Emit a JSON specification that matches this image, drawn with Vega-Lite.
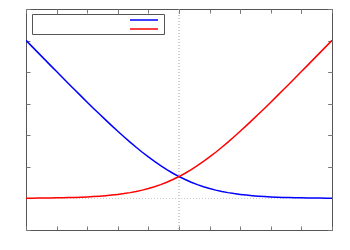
{
  "$schema": "https://vega.github.io/schema/vega-lite/v6.json",
  "width": 306,
  "height": 221,
  "autosize": {"type": "none"},
  "padding": {"left": 26, "top": 9, "right": 18, "bottom": 20},
  "background": "white",
  "config": {
    "view": {"stroke": "#555555", "strokeWidth": 1},
    "axis": {"labels": false, "domain": false, "grid": false, "ticks": true, "tickSize": -4, "tickColor": "#777777", "tickWidth": 1, "title": null}
  },
  "data": {"values": [
    {"x": -2.5, "a": 5.0067, "b": 0.0067},
    {"x": -2.4, "a": 4.8082, "b": 0.0082},
    {"x": -2.3, "a": 4.6100, "b": 0.0100},
    {"x": -2.2, "a": 4.4122, "b": 0.0122},
    {"x": -2.1, "a": 4.2149, "b": 0.0149},
    {"x": -2.0, "a": 4.0182, "b": 0.0182},
    {"x": -1.9, "a": 3.8221, "b": 0.0221},
    {"x": -1.8, "a": 3.6270, "b": 0.0270},
    {"x": -1.7, "a": 3.4328, "b": 0.0328},
    {"x": -1.6, "a": 3.2400, "b": 0.0400},
    {"x": -1.5, "a": 3.0486, "b": 0.0486},
    {"x": -1.4, "a": 2.8590, "b": 0.0590},
    {"x": -1.3, "a": 2.6716, "b": 0.0716},
    {"x": -1.2, "a": 2.4868, "b": 0.0868},
    {"x": -1.1, "a": 2.3051, "b": 0.1051},
    {"x": -1.0, "a": 2.1269, "b": 0.1269},
    {"x": -0.9, "a": 1.9530, "b": 0.1530},
    {"x": -0.8, "a": 1.7839, "b": 0.1839},
    {"x": -0.7, "a": 1.6204, "b": 0.2204},
    {"x": -0.6, "a": 1.4633, "b": 0.2633},
    {"x": -0.5, "a": 1.3133, "b": 0.3133},
    {"x": -0.4, "a": 1.1711, "b": 0.3711},
    {"x": -0.3, "a": 1.0375, "b": 0.4375},
    {"x": -0.2, "a": 0.9130, "b": 0.5130},
    {"x": -0.1, "a": 0.7981, "b": 0.5981},
    {"x": 0.0, "a": 0.6931, "b": 0.6931},
    {"x": 0.1, "a": 0.5981, "b": 0.7981},
    {"x": 0.2, "a": 0.5130, "b": 0.9130},
    {"x": 0.3, "a": 0.4375, "b": 1.0375},
    {"x": 0.4, "a": 0.3711, "b": 1.1711},
    {"x": 0.5, "a": 0.3133, "b": 1.3133},
    {"x": 0.6, "a": 0.2633, "b": 1.4633},
    {"x": 0.7, "a": 0.2204, "b": 1.6204},
    {"x": 0.8, "a": 0.1839, "b": 1.7839},
    {"x": 0.9, "a": 0.1530, "b": 1.9530},
    {"x": 1.0, "a": 0.1269, "b": 2.1269},
    {"x": 1.1, "a": 0.1051, "b": 2.3051},
    {"x": 1.2, "a": 0.0868, "b": 2.4868},
    {"x": 1.3, "a": 0.0716, "b": 2.6716},
    {"x": 1.4, "a": 0.0590, "b": 2.8590},
    {"x": 1.5, "a": 0.0486, "b": 3.0486},
    {"x": 1.6, "a": 0.0400, "b": 3.2400},
    {"x": 1.7, "a": 0.0328, "b": 3.4328},
    {"x": 1.8, "a": 0.0270, "b": 3.6270},
    {"x": 1.9, "a": 0.0221, "b": 3.8221},
    {"x": 2.0, "a": 0.0182, "b": 4.0182},
    {"x": 2.1, "a": 0.0149, "b": 4.2149},
    {"x": 2.2, "a": 0.0122, "b": 4.4122},
    {"x": 2.3, "a": 0.0100, "b": 4.6100},
    {"x": 2.4, "a": 0.0082, "b": 4.8082},
    {"x": 2.5, "a": 0.0067, "b": 5.0067}
  ]},
  "layer": [
    {
      "data": {"values": [{"z": 0}]},
      "mark": {"type": "rule", "stroke": "#a0a0a0", "strokeWidth": 1, "strokeDash": [1, 2]},
      "encoding": {"x": {"field": "z", "type": "quantitative", "scale": {"domain": [-2.5, 2.5], "nice": false, "zero": false}}}
    },
    {
      "data": {"values": [{"z": 0}]},
      "mark": {"type": "rule", "stroke": "#c8c8c8", "strokeWidth": 1, "strokeDash": [1, 2]},
      "encoding": {"y": {"field": "z", "type": "quantitative", "scale": {"domain": [-1, 6], "nice": false, "zero": false}}}
    },
    {
      "mark": {"type": "line", "strokeWidth": 1.5, "clip": true},
      "encoding": {
        "x": {"field": "x", "type": "quantitative", "scale": {"domain": [-2.5, 2.5], "nice": false, "zero": false}, "axis": {"values": [-2, -1, 0, 1, 2]}},
        "y": {"field": "a", "type": "quantitative", "scale": {"domain": [-1, 6], "nice": false, "zero": false}, "axis": {"values": [-1, 0, 1, 2, 3, 4, 5, 6]}},
        "color": {"datum": "a", "type": "nominal", "scale": {"domain": ["a", "b"], "range": ["#0000ff", "#ff0000"]},
          "legend": {"orient": "none", "legendX": 6, "legendY": 5, "title": null, "labelExpr": "''", "labelFontSize": 6, "symbolType": "M-4.667,0H4.667", "symbolSize": 36, "symbolStrokeWidth": 1.5, "symbolOffset": 106, "rowPadding": 2, "padding": 2, "strokeColor": "#555555", "fillColor": "white"}}
      }
    },
    {
      "mark": {"type": "line", "strokeWidth": 1.5, "clip": true},
      "encoding": {
        "x": {"field": "x", "type": "quantitative"},
        "y": {"field": "b", "type": "quantitative"},
        "color": {"datum": "b", "type": "nominal"}
      }
    },
    {
      "data": {"values": [{"z": 0}]},
      "mark": {"type": "rule", "opacity": 0},
      "encoding": {
        "x": {"field": "z", "type": "quantitative", "axis": {"orient": "top", "values": [-2, -1, 0, 1, 2]}},
        "y": {"field": "z", "type": "quantitative", "axis": {"orient": "right", "values": [-1, 0, 1, 2, 3, 4, 5, 6]}}
      }
    }
  ],
  "resolve": {"axis": {"x": "independent", "y": "independent"}}
}
